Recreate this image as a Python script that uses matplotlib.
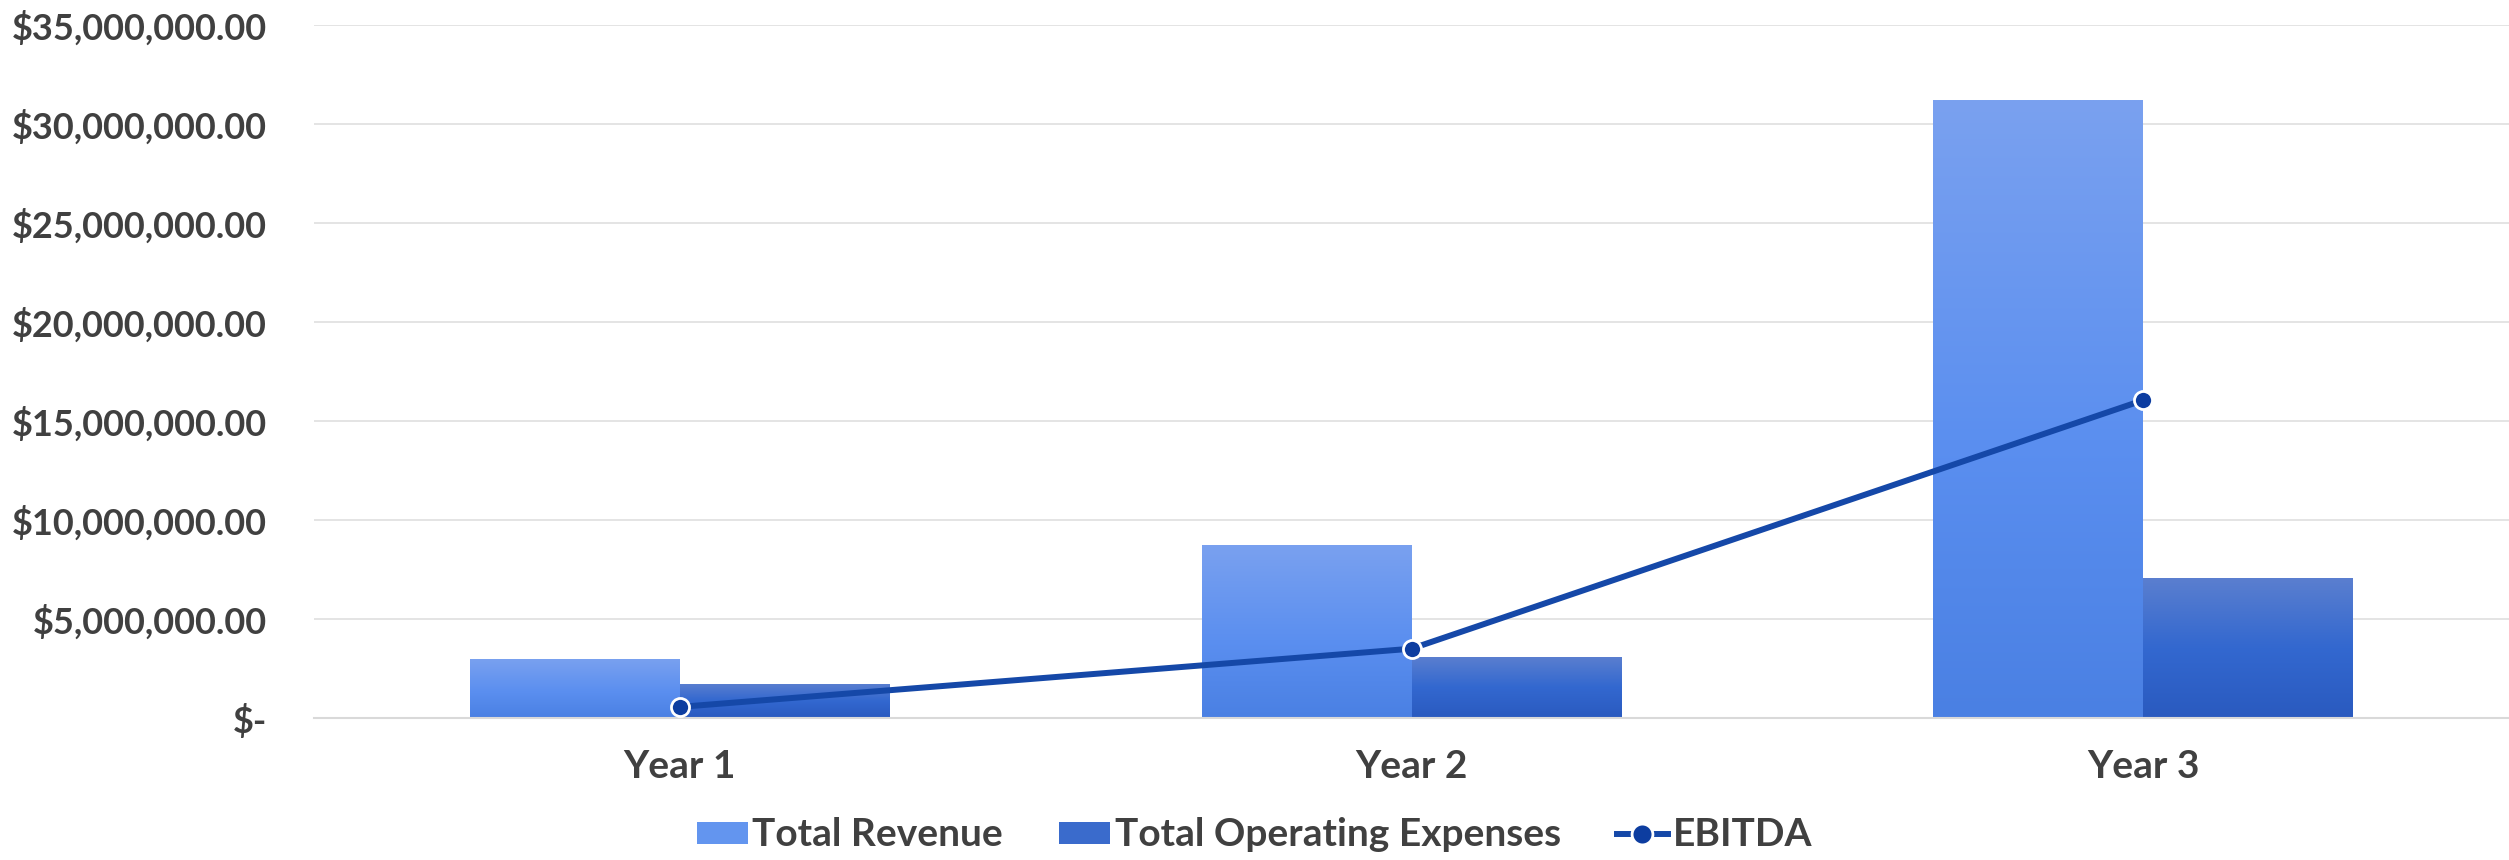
import matplotlib
matplotlib.use("Agg")
import matplotlib.pyplot as plt
import numpy as np
from matplotlib.colors import LinearSegmentedColormap
from matplotlib.patches import Patch
from matplotlib.lines import Line2D
from matplotlib.ticker import FuncFormatter, MultipleLocator

# ---- data ----
categories = ["Year 1", "Year 2", "Year 3"]
total_revenue = [2990000, 8750000, 31200000]
total_opex = [1720000, 3100000, 7080000]
ebitda = [560000, 3500000, 16050000]
series_names = ["Total Revenue", "Total Operating Expenses", "EBITDA"]

FONT = "Lato"
TXT = "#404040"
plt.rcParams["font.family"] = [FONT, "DejaVu Sans"]
plt.rcParams["font.weight"] = "bold"

fig = plt.figure(figsize=(25.09, 8.6), dpi=100)
ax = fig.add_axes([314 / 2509, 142 / 860, 1 - 314 / 2509, (718 - 25) / 860])

x = np.arange(len(categories))
bw = 0.287

rev_cmap = LinearSegmentedColormap.from_list("rev", [(0, "#4a80e3"), (0.45, "#5b8ff0"), (1, "#7aa1ef")])
opx_cmap = LinearSegmentedColormap.from_list("opx", [(0, "#2a5abf"), (0.5, "#3368d0"), (1, "#5b7fcf")])

bars_rev = ax.bar(x - bw / 2, total_revenue, bw, color="#6395ef", zorder=2, linewidth=0)
bars_opx = ax.bar(x + bw / 2, total_opex, bw, color="#3a6bcc", zorder=2, linewidth=0)

grad = np.linspace(0, 1, 256).reshape(-1, 1)
for bars, cmap in ((bars_rev, rev_cmap), (bars_opx, opx_cmap)):
    for b in bars:
        x0, y0 = b.get_x(), b.get_y()
        w, h = b.get_width(), b.get_height()
        im = ax.imshow(grad, cmap=cmap, origin="lower", aspect="auto",
                       extent=(x0, x0 + w, y0, y0 + h), zorder=2.1,
                       interpolation="bilinear")
        im.set_clip_path(b)

ax.plot(x, ebitda, color="#1548a8", lw=4.3, marker="o", markersize=13,
        markerfacecolor="#0d3da0", markeredgecolor="white", markeredgewidth=2,
        zorder=4, solid_capstyle="round")

ax.set_xlim(-0.5, 2.5)
ax.set_ylim(0, 35000000)
ax.yaxis.set_major_locator(MultipleLocator(5000000))

def fmt(v, pos):
    if abs(v) < 1:
        return "$-"
    return "${:,.2f}".format(v)

ax.yaxis.set_major_formatter(FuncFormatter(fmt))
ax.set_xticks(x)
ax.set_xticklabels(categories)

ax.grid(axis="y", color="#e2e2e2", lw=1.3, zorder=0)
ax.set_axisbelow(True)
for s in ["top", "right", "left"]:
    ax.spines[s].set_visible(False)
ax.spines["bottom"].set_color("#d9d9d9")
ax.spines["bottom"].set_linewidth(1.5)

ax.tick_params(axis="both", length=0, labelcolor=TXT)
ax.tick_params(axis="y", pad=34, labelsize=26)
ax.tick_params(axis="x", pad=22, labelsize=28)
for lab in ax.get_xticklabels() + ax.get_yticklabels():
    lab.set_fontweight("bold")

handles = [
    Patch(facecolor="#6395ef", edgecolor="none", label=series_names[0]),
    Patch(facecolor="#3a6bcc", edgecolor="none", label=series_names[1]),
    Line2D([0], [0], color="#1548a8", lw=4.3, marker="o", markersize=15,
           markerfacecolor="#0d3da0", markeredgecolor="white", markeredgewidth=2,
           label=series_names[2]),
]
leg = fig.legend(handles=handles, loc="center", bbox_to_anchor=(0.5, 25 / 860),
                 ncol=3, frameon=False, fontsize=28, handlelength=1.3,
                 handleheight=0.5, handletextpad=0.12, columnspacing=1.45,
                 borderaxespad=0)
for t in leg.get_texts():
    t.set_color(TXT)
    t.set_fontweight("bold")

fig.savefig("out.png", dpi=100, facecolor="white")
